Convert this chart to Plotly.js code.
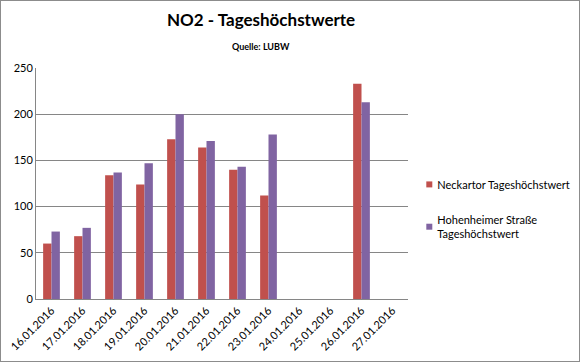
<!DOCTYPE html>
<html>
<head>
<meta charset="utf-8">
<script src="https://cdn.plot.ly/plotly-3.0.1.min.js"></script>
<style>
  html, body { margin: 0; padding: 0; background: #fff; }
  #wrap { position: relative; width: 580px; height: 362px; }
  #chart { width: 580px; height: 362px; }
  #frame { position: absolute; left: 0; top: 0; width: 578px; height: 360px; border: 1px solid #8c8c8c; pointer-events: none; }
</style>
</head>
<body>
<div id="wrap"><div id="chart"></div><div id="frame"></div></div>
<script>
const dates = ["16.01.2016","17.01.2016","18.01.2016","19.01.2016","20.01.2016","21.01.2016",
               "22.01.2016","23.01.2016","24.01.2016","25.01.2016","26.01.2016","27.01.2016"];
const neckartor = [60, 68, 134, 124, 173, 164, 140, 112, null, null, 233, null];
const hohenheimer = [73, 77, 137, 147, 200, 171, 143, 178, null, null, 213, null];
const seriesNames = ["Neckartor Tageshöchstwert", "Hohenheimer Straße<br>Tageshöchstwert"];
const yTicks = [0, 50, 100, 150, 200, 250];

const font = "Lato, 'Open Sans', sans-serif";
const data = [
  { type: "bar", x: dates, y: neckartor, name: seriesNames[0], marker: { color: "#C0504D" }, legendgroup: "a", hoverinfo: "x+y" },
  { type: "bar", x: dates, y: hohenheimer, name: seriesNames[1], marker: { color: "#8064A2" }, legendgroup: "b", hoverinfo: "x+y" }
];
const layout = {
  width: 580, height: 362,
  margin: { l: 36, r: 172, t: 68, b: 63, autoexpand: false },
  paper_bgcolor: "#fff", plot_bgcolor: "#fff",
  font: { family: font, color: "#000", size: 11 },
  title: { text: "<b>NO2 - Tageshöchstwerte</b>", font: { family: font, size: 17, color: "#000" },
           x: 0.605, xref: "paper", y: 0.945, yref: "container", xanchor: "center", yanchor: "middle" },
  annotations: [{ text: "<b>Quelle: LUBW</b>", xref: "paper", yref: "paper", x: 0.605, y: 1.095,
                  showarrow: false, font: { family: font, size: 9, color: "#000" }, xanchor: "center", yanchor: "middle" }],
  barmode: "group", bargap: 0.46, bargroupgap: 0,
  xaxis: { type: "category", tickangle: -45, showline: true, linecolor: "#868686", linewidth: 1,
           ticks: "", showgrid: false, tickfont: { family: font, size: 11 }, fixedrange: true },
  yaxis: { range: [0, 250], tickvals: yTicks, showline: true, linecolor: "#868686", linewidth: 1,
           gridcolor: "#868686", gridwidth: 1, zeroline: false, ticks: "", tickfont: { family: font, size: 11 },
           fixedrange: true },
  showlegend: true,
  legend: { x: 1.0035, xanchor: "left", y: 0.39, yanchor: "middle", tracegroupgap: 17,
            font: { family: font, size: 11 }, itemwidth: 30, bgcolor: "rgba(0,0,0,0)" }
};
Plotly.newPlot("chart", data, layout, { displayModeBar: false, staticPlot: true }).then(function () {
  document.querySelectorAll("#chart .legendpoints path").forEach(function (p) {
    p.setAttribute("d", "M3,3H-3V-3H3Z");
    p.style.strokeWidth = "0";
  });
  document.querySelectorAll("#chart .legendtext").forEach(function (t) {
    const shift = function (el) {
      const x = parseFloat(el.getAttribute("x"));
      if (!isNaN(x)) el.setAttribute("x", x - 12);
    };
    shift(t);
    t.querySelectorAll("tspan").forEach(shift);
  });
  document.querySelectorAll("#chart .legend, #chart .legend *").forEach(function (el) {
    if (el.getAttribute && el.getAttribute("clip-path")) el.removeAttribute("clip-path");
  });
});
</script>
</body>
</html>
